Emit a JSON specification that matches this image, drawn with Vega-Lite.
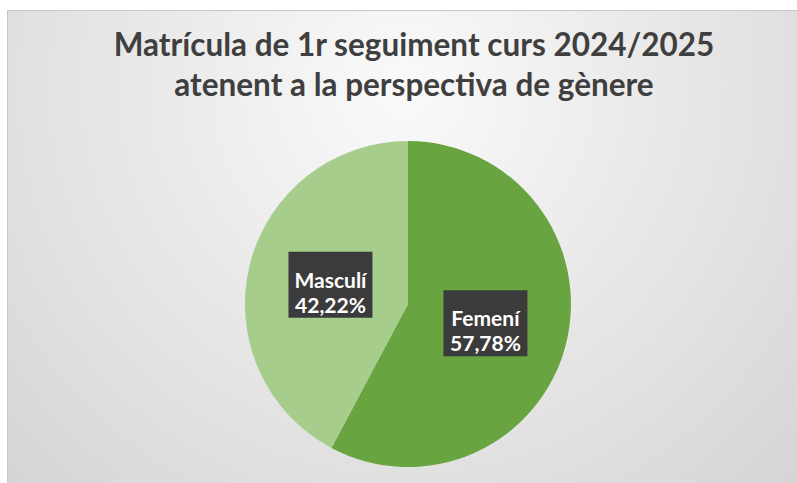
{
  "$schema": "https://vega.github.io/schema/vega-lite/v6.json",
  "width": 790,
  "height": 473,
  "autosize": "none",
  "padding": {"left": 7, "top": 10, "right": 0, "bottom": 0},
  "background": "#ffffff",
  "config": {
    "view": {
      "fill": {
        "gradient": "radial",
        "x1": 0.5, "y1": 0.3, "r1": 0,
        "x2": 0.5, "y2": 0.3, "r2": 0.8,
        "stops": [
          {"offset": 0, "color": "#fafafa"},
          {"offset": 1, "color": "#d0d0d0"}
        ]
      },
      "stroke": "#c8c8c8",
      "strokeWidth": 1
    }
  },
  "title": {
    "text": ["Matrícula de 1r seguiment curs 2024/2025", "atenent a la perspectiva de gènere"],
    "font": "Lato",
    "fontSize": 31.5,
    "fontWeight": "bold",
    "color": "#3f3f3f",
    "anchor": "middle",
    "baseline": "top",
    "lineHeight": 40,
    "offset": -92,
    "dx": 12
  },
  "data": {
    "values": [
      {"genere": "Femení", "pct": 57.78, "ordre": 1},
      {"genere": "Masculí", "pct": 42.22, "ordre": 2}
    ]
  },
  "transform": [
    {"window": [{"op": "sum", "field": "pct", "as": "acum"}], "sort": [{"field": "ordre"}], "frame": [null, 0]},
    {"calculate": "(datum.acum - datum.pct / 2) / 100 * 2 * PI", "as": "mig"},
    {"calculate": "0.49 * sin(datum.mig)", "as": "lx"},
    {"calculate": "0.49 * cos(datum.mig)", "as": "ly"},
    {"calculate": "datum.genere + '\\n' + replace(format(datum.pct, '.2f'), '.', ',') + '%'", "as": "etiqueta"}
  ],
  "layer": [
    {
      "mark": {"type": "arc", "outerRadius": 163},
      "encoding": {
        "theta": {"field": "pct", "type": "quantitative", "stack": true},
        "order": {"field": "ordre", "type": "quantitative"},
        "color": {
          "field": "genere", "type": "nominal",
          "scale": {"domain": ["Femení", "Masculí"], "range": ["#68A43F", "#A6CD8C"]},
          "legend": null
        },
        "x": {"datum": 0, "type": "quantitative", "scale": {"domain": [-2.46, 2.387], "nice": false, "zero": false}, "axis": null},
        "y": {"datum": 0, "type": "quantitative", "scale": {"domain": [-1.098, 1.804], "nice": false, "zero": false}, "axis": null}
      }
    },
    {
      "mark": {"type": "rect", "width": 84, "height": 66, "fill": "#3b3b3b"},
      "encoding": {
        "x": {"field": "lx", "type": "quantitative"},
        "y": {"field": "ly", "type": "quantitative"}
      }
    },
    {
      "mark": {"type": "text", "font": "Lato", "fontSize": 21, "fontWeight": "bold", "color": "#ffffff", "lineBreak": "\n", "lineHeight": 25, "align": "center", "baseline": "middle", "dy": -3},
      "encoding": {
        "x": {"field": "lx", "type": "quantitative"},
        "y": {"field": "ly", "type": "quantitative"},
        "text": {"field": "etiqueta", "type": "nominal"}
      }
    }
  ]
}
